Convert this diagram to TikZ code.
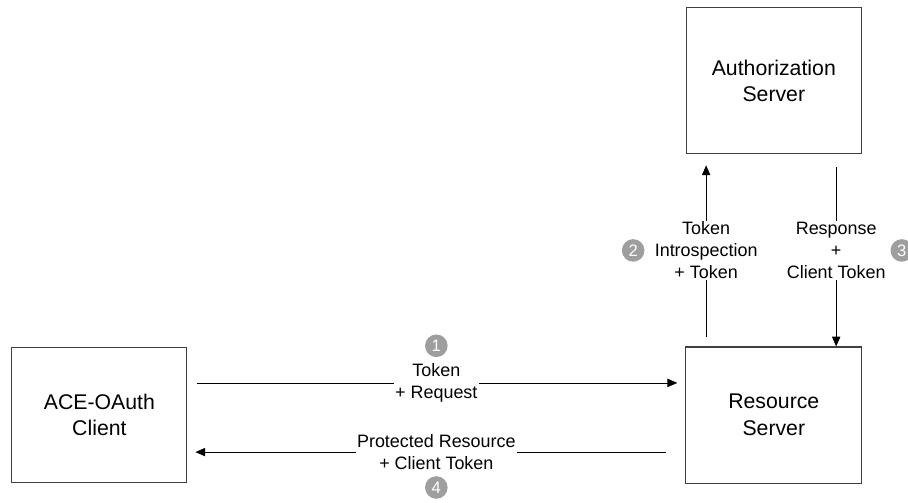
\documentclass[tikz,border=0pt]{standalone}
\usepackage{fontspec}
\setmainfont{Liberation Sans}
\usepackage{tikz}
\usetikzlibrary{positioning, arrows.meta}

\begin{document}
\begin{tikzpicture}[
    party/.style={rectangle, draw=black!75, line width=0.8pt, fill=white,
                  align=center, font=\fontsize{16}{20}\selectfont},
    lbl/.style={fill=white, align=center, inner sep=1pt,
                font=\fontsize{13.5}{16.5}\selectfont},
    badge/.style={circle, fill=black!38, text=white, inner sep=0pt,
                  minimum size=17pt, font=\fontsize{12.5}{12.5}\selectfont},
    arr/.style={-{Triangle[length=2.6mm, width=2.2mm]}, line width=0.6pt}
]
\useasboundingbox (0,0) rectangle (24.02,13.28);

\node[party, minimum width=4.63cm, minimum height=3.57cm] (client) at (2.63, 2.3)  {ACE-OAuth\\Client};
\node[party, minimum width=4.66cm, minimum height=3.60cm] (rs)     at (20.47, 2.3) {Resource\\Server};
\node[party, minimum width=4.63cm, minimum height=3.86cm] (as)     at (20.47, 11.14) {Authorization\\Server};

\draw[arr, shorten <=0.24cm, shorten >=0.21cm] ([yshift=0.85cm]client.east) --
    node[lbl] (l1) {Token\\+ Request} ([yshift=0.85cm]rs.west);
\draw[arr, shorten <=0.24cm, shorten >=0.29cm] ([xshift=-1.79cm]rs.north) --
    node[lbl] (l2) {Token\\Introspection\\+ Token} ([xshift=-1.79cm]as.south);
\draw[arr, shorten <=0.34cm] ([xshift=1.65cm]as.south) --
    node[lbl] (l3) {Response\\+\\Client Token} ([xshift=1.65cm]rs.north);
\draw[arr, shorten <=0.5cm, shorten >=0.21cm] ([yshift=-0.98cm]rs.west) --
    node[lbl] (l4) {Protected Resource\\+ Client Token} ([yshift=-0.98cm]client.east);

% step numbers
\node[badge, above=1.2mm of l1] (n1) {1};
\node[badge, left=2.2mm of l2]  (n2) {2};
\node[badge, right=0.8mm of l3] (n3) {3};
\node[badge, below=1.2mm of l4] (n4) {4};

\end{tikzpicture}
\end{document}
